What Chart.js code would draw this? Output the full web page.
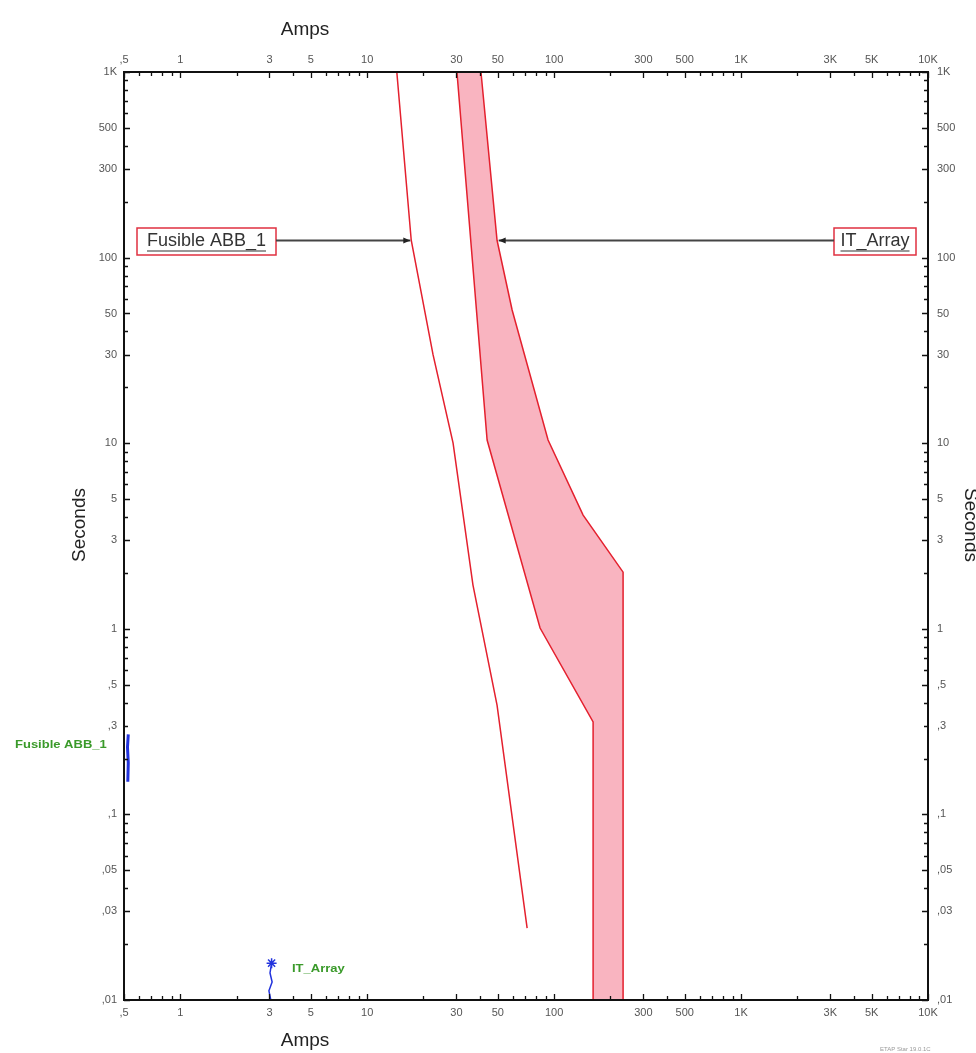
<!DOCTYPE html>
<html>
<head>
<meta charset="utf-8">
<script src="https://cdn.jsdelivr.net/npm/chart.js@4.4.1/dist/chart.umd.min.js"></script>
<style>
  body { margin: 0; background: #fff; }
  canvas { display: block; }
</style>
</head>
<body>
<canvas id="tcc" width="976" height="1053"></canvas>
<script>
// curve data (amps, seconds)
const fusibleAmps = [14.4, 17.2, 22.5, 28.8, 36.8, 49.5, 71.7];
const fusibleSecs = [1000, 124, 30, 10, 1.72, 0.388, 0.0244];

const itLeftAmps = [30.2, 43.8, 84.1, 161.6, 161.6];
const itLeftSecs = [1000, 10.4, 1.01, 0.315, 0.01];
const itRightAmps = [40.6, 49.5, 59.6, 92.8, 142.9, 233.8, 233.8];
const itRightSecs = [1000, 124, 52.2, 10.4, 4.1, 2.02, 0.01];

const dotAmps = [150];
const dotSecs = [1.16];

const blueLeftAmps = [0.527, 0.522, 0.527, 0.524];
const blueLeftSecs = [0.27, 0.23, 0.19, 0.15];
const blueBottomAmps = [3.05, 2.98, 3.1, 3.02, 3.08];
const blueBottomSecs = [0.01, 0.0112, 0.0125, 0.014, 0.0158];

const arrowSecs = 124;           // both labels point at this time
const fusibleArrowAmps = 17.0;
const itArrowAmps = 50.5;

const xLabelValues = [0.5, 1, 3, 5, 10, 30, 50, 100, 300, 500, 1000, 3000, 5000, 10000];
const xLabelText = [',5', '1', '3', '5', '10', '30', '50', '100', '300', '500', '1K', '3K', '5K', '10K'];
const yLabelValues = [1000, 500, 300, 100, 50, 30, 10, 5, 3, 1, 0.5, 0.3, 0.1, 0.05, 0.03, 0.01];
const yLabelText = ['1K', '500', '300', '100', '50', '30', '10', '5', '3', '1', ',5', ',3', ',1', ',05', ',03', ',01'];

function pts(xs, ys) {
    return xs.map((x, i) => ({ x: x, y: ys[i] }));
}

// closed outline of the IT_Array band: left edge down, right edge back up
const bandPts = pts(itLeftAmps, itLeftSecs).concat(pts(itRightAmps, itRightSecs).reverse());
bandPts.push(bandPts[0]);

function minorTicks(min, max) {
    var out = [];
    for (var e = -3; e <= 4; e++) {
        for (var m = 1; m <= 9; m++) {
            var v = m * Math.pow(10, e);
            if (v >= min * 0.999 && v <= max * 1.001) out.push(v);
        }
    }
    return out;
}

const frame = {
    id: 'frame',
    afterDraw(chart) {
        const ctx = chart.ctx;
        const a = chart.chartArea;
        const xs = chart.scales.x, ys = chart.scales.y;
        ctx.save();

        // border
        ctx.strokeStyle = '#111';
        ctx.lineWidth = 2;
        ctx.strokeRect(a.left, a.top, a.right - a.left, a.bottom - a.top);

        // tick marks pointing inward
        ctx.lineWidth = 1.3;
        ctx.beginPath();
        minorTicks(0.5, 10000).forEach(v => {
            const px = Math.round(xs.getPixelForValue(v)) + 0.5;
            const len = xLabelValues.indexOf(v) >= 0 ? 6 : 4;
            ctx.moveTo(px, a.top); ctx.lineTo(px, a.top + len);
            ctx.moveTo(px, a.bottom); ctx.lineTo(px, a.bottom - len);
        });
        minorTicks(0.01, 1000).forEach(v => {
            const py = Math.round(ys.getPixelForValue(v)) + 0.5;
            const len = yLabelValues.indexOf(v) >= 0 ? 6 : 4;
            ctx.moveTo(a.left, py); ctx.lineTo(a.left + len, py);
            ctx.moveTo(a.right, py); ctx.lineTo(a.right - len, py);
        });
        ctx.stroke();

        // tick labels
        ctx.fillStyle = '#555';
        ctx.font = '11px "Liberation Sans", Arial, sans-serif';
        ctx.textAlign = 'center';
        ctx.textBaseline = 'middle';
        xLabelValues.forEach((v, i) => {
            const px = xs.getPixelForValue(v);
            ctx.fillText(xLabelText[i], px, a.top - 12);
            ctx.fillText(xLabelText[i], px, a.bottom + 13);
        });
        yLabelValues.forEach((v, i) => {
            const py = ys.getPixelForValue(v);
            ctx.textAlign = 'right';
            ctx.fillText(yLabelText[i], a.left - 7, py);
            ctx.textAlign = 'left';
            ctx.fillText(yLabelText[i], a.right + 9, py);
        });

        // axis titles
        ctx.fillStyle = '#222';
        ctx.font = '19px "Liberation Sans", Arial, sans-serif';
        ctx.textAlign = 'center';
        ctx.fillText('Amps', 305, 30);
        ctx.fillText('Amps', 305, 1041);
        ctx.save();
        ctx.translate(80, 525);
        ctx.rotate(-Math.PI / 2);
        ctx.fillText('Seconds', 0, 0);
        ctx.restore();
        ctx.save();
        ctx.translate(970, 525);
        ctx.rotate(Math.PI / 2);
        ctx.fillText('Seconds', 0, 0);
        ctx.restore();

        // label boxes with arrows
        const ay = Math.round(ys.getPixelForValue(arrowSecs)) + 0.5;
        function labelBox(text, bx, bw, tipX, fromRight) {
            const by = 228, bh = 27;
            ctx.strokeStyle = '#e03040';
            ctx.lineWidth = 1.5;
            ctx.strokeRect(bx, by, bw, bh);
            ctx.fillStyle = '#333';
            ctx.font = '18px "Liberation Sans", Arial, sans-serif';
            ctx.textAlign = 'center';
            ctx.textBaseline = 'middle';
            ctx.fillText(text, bx + bw / 2, by + bh / 2);
            const tw = ctx.measureText(text).width;
            ctx.strokeStyle = '#333';
            ctx.lineWidth = 1.2;
            ctx.beginPath();
            ctx.moveTo(bx + bw / 2 - tw / 2, by + bh / 2 + 9.5);
            ctx.lineTo(bx + bw / 2 + tw / 2, by + bh / 2 + 9.5);
            ctx.stroke();
            // arrow line
            const startX = fromRight ? bx : bx + bw;
            ctx.strokeStyle = '#444';
            ctx.lineWidth = 2;
            ctx.beginPath();
            ctx.moveTo(startX, ay);
            ctx.lineTo(tipX, ay);
            ctx.stroke();
            const d = fromRight ? 1 : -1;
            ctx.fillStyle = '#222';
            ctx.beginPath();
            ctx.moveTo(tipX, ay);
            ctx.lineTo(tipX + d * 7, ay - 3);
            ctx.lineTo(tipX + d * 7, ay + 3);
            ctx.closePath();
            ctx.fill();
        }
        labelBox('Fusible ABB_1', 137, 139, xs.getPixelForValue(fusibleArrowAmps), false);
        labelBox('IT_Array', 834, 82, xs.getPixelForValue(itArrowAmps), true);

        // small green device tags (wide, bold)
        ctx.fillStyle = '#3a9a2a';
        ctx.font = 'bold 10px "Liberation Sans", Arial, sans-serif';
        ctx.textAlign = 'left';
        ctx.textBaseline = 'middle';
        [['Fusible ABB_1', 15, 745], ['IT_Array', 292, 969]].forEach(t => {
            ctx.save();
            ctx.translate(t[1], t[2]);
            ctx.scale(1.3, 1);
            ctx.fillText(t[0], 0, 0);
            ctx.restore();
        });

        // footer
        ctx.fillStyle = '#999';
        ctx.font = '6px "Liberation Sans", Arial, sans-serif';
        ctx.fillText('ETAP Star 19.0.1C', 880, 1049);

        ctx.restore();
    }
};

new Chart(document.getElementById('tcc'), {
    type: 'scatter',
    data: {
        datasets: [
            {
                label: 'IT_Array',
                data: bandPts,
                showLine: true,
                fill: 'shape',
                backgroundColor: '#f9b4c0',
                borderColor: '#e4202e',
                borderWidth: 1.5,
                pointRadius: 0,
                tension: 0
            },
            {
                label: 'Fusible ABB_1',
                data: pts(fusibleAmps, fusibleSecs),
                showLine: true,
                fill: false,
                borderColor: '#e4202e',
                borderWidth: 1.5,
                pointRadius: 0,
                tension: 0
            },
            {
                label: 'dot',
                data: pts(dotAmps, dotSecs),
                pointStyle: 'rect',
                pointRadius: 3,
                backgroundColor: '#000',
                borderColor: '#000',
                borderWidth: 0
            },
            {
                label: 'blue left',
                data: pts(blueLeftAmps, blueLeftSecs),
                showLine: true,
                borderColor: '#2233dd',
                borderWidth: 3,
                pointRadius: 0
            },
            {
                label: 'blue bottom',
                data: pts(blueBottomAmps, blueBottomSecs),
                showLine: true,
                borderColor: '#2233dd',
                borderWidth: 1.5,
                pointStyle: 'star',
                pointRadius: [0, 0, 0, 0, 5],
                pointBorderColor: '#2233dd',
                pointBorderWidth: 1.5
            }
        ]
    },
    options: {
        responsive: false,
        animation: false,
        layout: { padding: { left: 124, right: 48, top: 72, bottom: 53 } },
        scales: {
            x: { type: 'logarithmic', min: 0.5, max: 10000, display: false },
            y: { type: 'logarithmic', min: 0.01, max: 1000, display: false }
        },
        plugins: {
            legend: { display: false },
            tooltip: { enabled: false }
        }
    },
    plugins: [frame]
});
</script>
</body>
</html>
